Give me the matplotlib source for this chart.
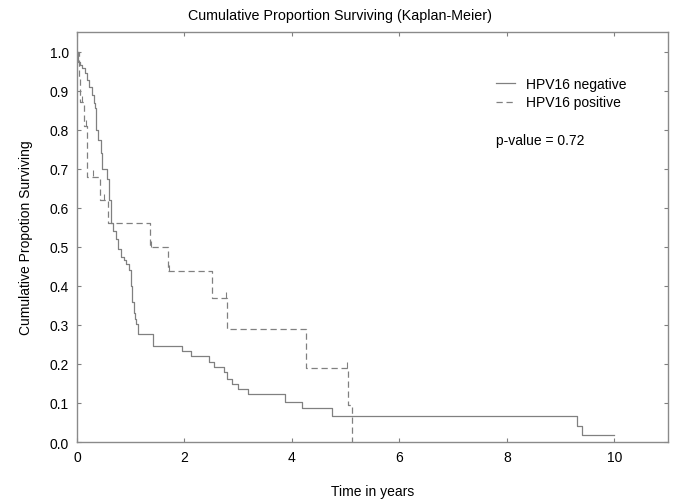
import numpy as np
import matplotlib
matplotlib.use("Agg")
import matplotlib.pyplot as plt

plt.rcParams['font.family'] = ['Liberation Sans', 'DejaVu Sans']

# HPV16 negative: event times (years) and survival after each step
neg_time = [0, 0.02, 0.06, 0.10, 0.14, 0.19, 0.23, 0.27, 0.31, 0.34, 0.36, 0.40,
            0.44, 0.47, 0.55, 0.60, 0.63, 0.67, 0.72, 0.77, 0.82, 0.87, 0.92, 0.97,
            1.00, 1.02, 1.06, 1.08, 1.10, 1.14, 1.41, 1.95, 2.12, 2.46, 2.55, 2.73,
            2.80, 2.88, 3.00, 3.19, 3.87, 4.18, 4.75, 9.31, 9.39, 10.0]
neg_surv = [1.0, 0.973, 0.966, 0.959, 0.945, 0.928, 0.91, 0.89, 0.868, 0.855, 0.80, 0.773,
            0.74, 0.70, 0.675, 0.62, 0.56, 0.54, 0.52, 0.495, 0.475, 0.465, 0.455, 0.44,
            0.40, 0.358, 0.33, 0.315, 0.303, 0.277, 0.245, 0.232, 0.221, 0.204, 0.192, 0.179,
            0.162, 0.149, 0.135, 0.122, 0.102, 0.087, 0.0675, 0.042, 0.018, 0.018]

# HPV16 positive
pos_time = [0, 0.03, 0.06, 0.13, 0.19, 0.43, 0.57, 1.36, 1.70, 2.52, 2.79, 4.27, 5.04, 5.12]
pos_surv = [1.0, 0.93, 0.87, 0.81, 0.68, 0.62, 0.56, 0.50, 0.438, 0.368, 0.29, 0.19, 0.095, 0.0]

# censored observations on the positive curve
cens_time = [0.09, 0.16, 0.30, 0.50, 1.37, 1.71, 2.78, 5.02]
cens_surv = [0.87, 0.81, 0.68, 0.62, 0.50, 0.438, 0.368, 0.19]

grey = '#808080'

fig = plt.figure(figsize=(6.85, 5.02), dpi=100)
ax = fig.add_axes([0.1124, 0.1175, 0.863, 0.8165])

ax.step(neg_time, neg_surv, where='post', color=grey, lw=0.9, label='HPV16 negative')
ax.step(pos_time, pos_surv, where='post', color=grey, lw=0.9,
        linestyle=(0, (5, 3)), label='HPV16 positive')
ax.plot(cens_time, np.array(cens_surv) + 0.008, linestyle='none', marker='|',
        color=grey, ms=4, mew=0.8)

ax.set_xlim(0, 11)
ax.set_ylim(0, 1.05)
ax.set_xticks([0, 2, 4, 6, 8, 10])
ax.set_yticks(np.arange(0, 1.01, 0.1))
ax.set_yticklabels([f'{v:.1f}' for v in np.arange(0, 1.01, 0.1)])
ax.tick_params(direction='in', length=3, color=grey, labelsize=10, pad=6,
               top=True, right=True)
for s in ax.spines.values():
    s.set_color('#8a8a8a')
    s.set_linewidth(1.0)

fig.text(0.497, 0.969, 'Cumulative Proportion Surviving (Kaplan-Meier)',
         fontsize=10.3, ha='center', va='center')
ax.set_xlabel('Time in years', fontsize=10, labelpad=14)
ax.set_ylabel('Cumulative Propotion Surviving', fontsize=10, labelpad=12)

ax.legend(loc='upper left', bbox_to_anchor=(0.699, 0.905), frameon=False,
          fontsize=10, handlelength=1.4, handletextpad=0.8, labelspacing=0.35,
          borderaxespad=0)
ax.text(0.708, 0.737, 'p-value = 0.72', transform=ax.transAxes, fontsize=10,
        va='center', ha='left')

fig.savefig('out.png', dpi=100)
